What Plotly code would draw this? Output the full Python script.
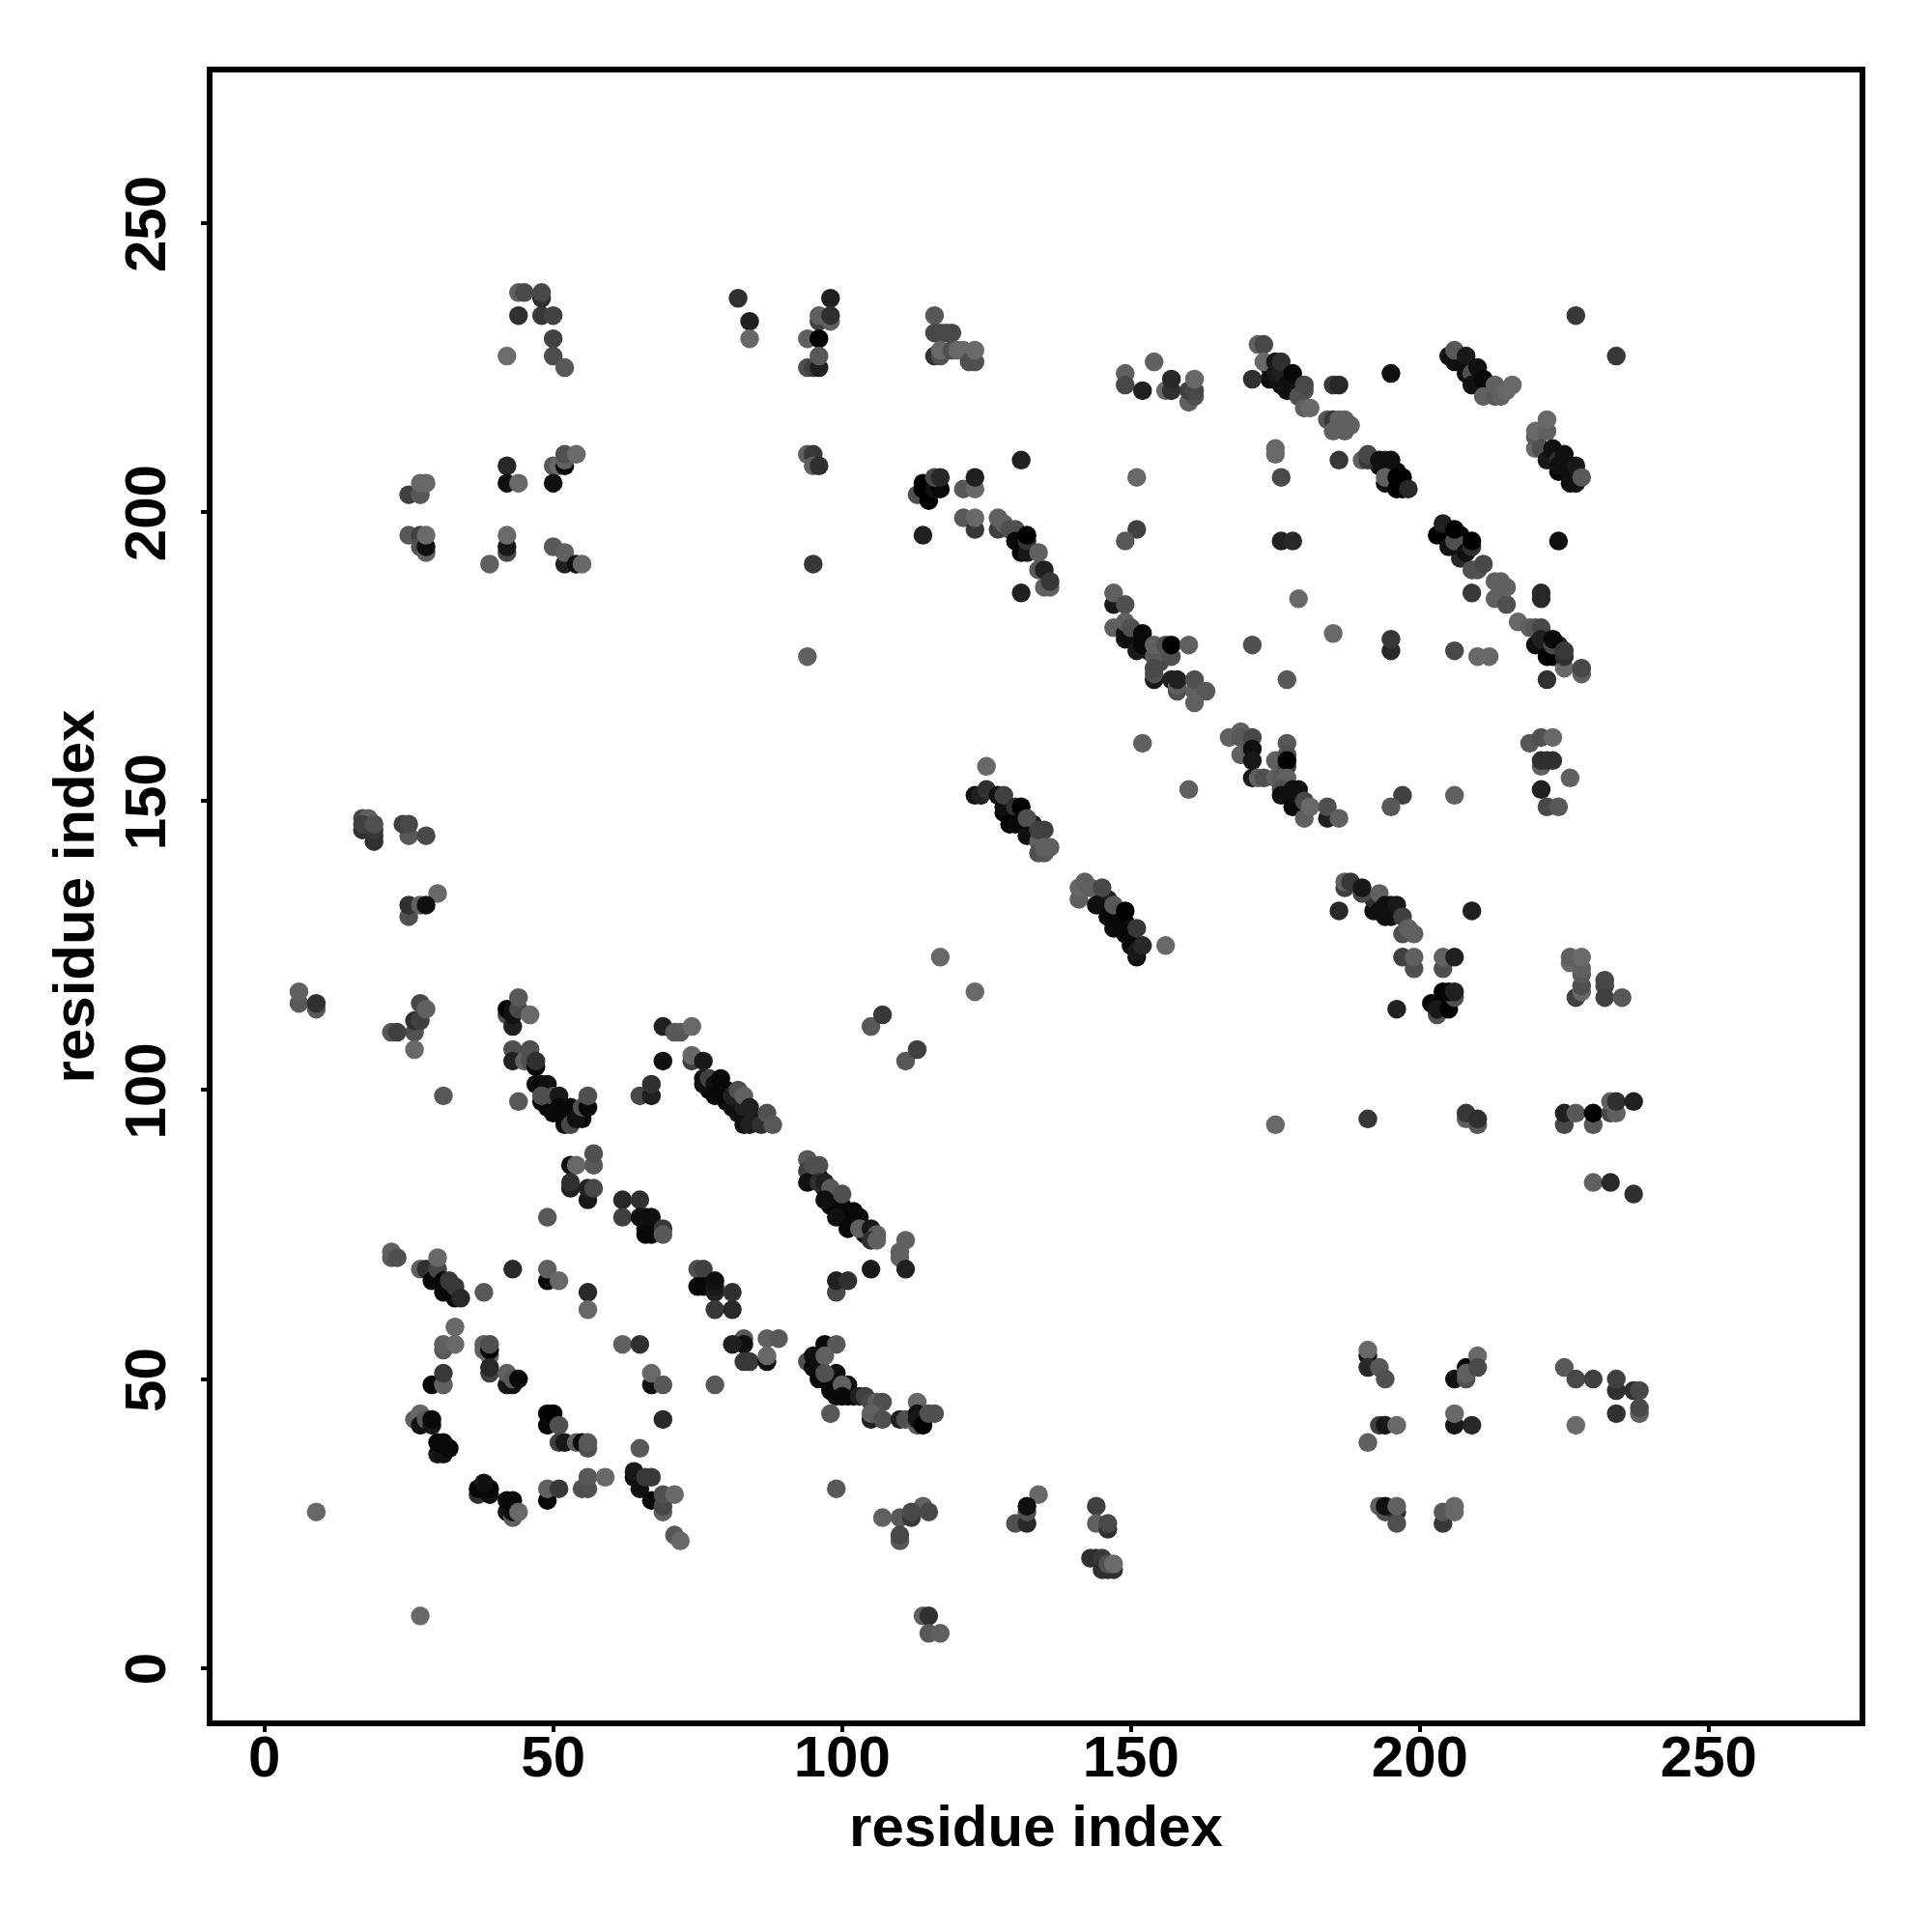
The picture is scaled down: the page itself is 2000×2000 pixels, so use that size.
import plotly.graph_objects as go

tick_values = [0, 50, 100, 150, 200, 250]
tick_labels = ["0", "50", "100", "150", "200", "250"]
axis_title = "residue index"

residue_i = [
95,96,97,98,98,99,100,100,101,102,103,104,98,
49,49,50,51,52,52,54,53,55,
77,78,79,80,80,82,82,84,85,
196,195,197,196,193,194,195,
205,204,205,206,207,207,208,208,207,
225,226,225,226,224,223,224,
174,174,176,177,178,176,179,179,
129,130,131,131,131,133,133,128,
145,146,147,148,149,149,150,146,150,147,
151,150,151,153,153,155,
192,194,195,194,192,
221,222,223,224,224,
99,98,99,100,102,101,
44,45,48,48,44,48,50,50,42,50,52,
42,42,44,50,51,52,52,52,54,50,
25,27,27,28,
25,27,27,28,28,28,
42,42,42,39,
50,52,52,54,55,
82,84,84,
98,96,96,98,98,94,96,94,95,96,96,
94,95,95,96,95,94,
116,116,117,118,119,116,117,117,119,120,121,122,123,123,
154,149,149,152,156,157,157,160,161,160,161,161,
151,131,
113,114,114,115,116,117,116,117,
121,123,123,121,123,123,114,
127,127,128,129,130,130,131,132,132,132,134,134,135,135,136,136,131,
151,149,
147,147,149,147,149,149,149,150,151,152,152,154,154,156,157,157,160,154,154,154,157,158,158,158,161,161,163,161,
152,167,
172,173,171,173,175,175,175,176,176,177,177,178,179,180,181,180,180,
185,186,195,
184,186,185,186,187,185,187,188,
175,175,176,186,
190,191,191,194,193,195,194,194,196,197,196,197,198,
176,178,224,
203,204,205,206,206,208,209,209,209,210,211,209,179,
214,213,214,215,213,214,215,
221,221,217,219,220,221,220,221,222,223,223,225,225,225,228,228,222,
185,195,195,171,177,206,210,212,
205,206,206,208,208,209,210,209,211,211,213,214,213,214,215,216,
220,220,220,222,222,221,222,223,224,224,225,226,227,227,228,
227,234,
169,169,171,177,219,221,223,
169,171,171,175,177,177,177,
171,172,173,175,176,177,176,176,178,179,178,179,180,180,181,184,184,186,
197,195,206,
221,221,222,223,226,221,222,224,
187,187,188,190,190,193,193,194,195,196,197,197,198,199,186,209,
197,199,199,204,204,206,196,
203,202,203,203,205,206,204,205,206,
226,226,227,228,228,228,228,228,232,232,232,235,
175,191,208,208,210,210,
225,225,227,230,230,233,234,233,234,237,
230,233,237,
17,17,19,19,19,18,17,19,
25,24,25,28,
30,25,25,27,28,
6,6,9,9,
26,26,22,23,26,27,27,28,
31,44,
42,43,42,43,43,44,44,46,
43,43,45,46,46,47,47,
47,48,48,49,48,50,50,51,51,52,53,53,54,55,56,56,
53,54,57,57,53,53,56,56,57,49,
62,65,62,65,66,67,66,66,67,69,69,
69,71,72,74,69,74,74,76,65,67,67,
76,76,77,78,78,79,81,81,82,83,83,83,84,84,86,87,88,
125,160,123,124,125,127,128,128,130,131,129,130,132,132,134,134,135,134,135,135,136,
141,141,142,143,145,144,146,147,149,148,150,151,151,151,152,156,
117,123,105,107,111,113,
94,94,94,95,96,96,97,98,100,97,99,102,101,103,105,106,105,106,111,110,110,111,105,99,99,101,
83,87,89,83,83,84,87,87,
94,95,95,96,97,99,97,96,99,97,98,101,100,100,103,104,105,106,107,98,105,105,107,
110,111,113,113,113,113,114,115,116,
99,107,110,110,110,114,112,112,115,
114,115,115,117,
134,130,132,132,132,
144,144,146,146,
143,144,145,145,146,147,146,147,
22,22,23,
27,28,29,30,30,31,31,32,33,33,34,
38,43,49,49,51,56,56,
31,31,33,33,
38,38,39,39,39,39,39,42,43,42,43,44,
29,31,31,
62,65,67,67,69,78,69,
75,76,75,76,78,78,78,81,78,81,81,
26,27,27,28,29,29,
30,31,30,31,32,
49,49,50,51,51,52,54,55,56,56,65,
37,37,39,39,38,38,
42,43,43,42,43,44,
49,49,51,55,56,56,59,
64,64,65,66,67,67,69,69,69,69,71,71,72,
9,27,
191,191,191,193,194,
206,208,208,208,210,210,
225,227,230,234,234,237,238,234,238,238,227,
193,194,196,191,206,206,209,
193,194,196,194,196,196,
204,204,206,206,
]

residue_j = [
85,85,83,82,80,81,80,79,78,77,78,75,81,
99,97,98,96,97,94,96,96,95,
100,100,99,100,98,98,96,95,95,
205,205,205,207,208,207,207,
196,196,195,194,194,196,195,194,192,
207,208,208,205,207,209,210,
225,223,222,223,221,225,222,221,
148,147,147,146,148,146,144,148,
133,131,130,130,129,127,128,133,125,128,
177,178,179,177,176,174,
131,130,132,131,133,
177,177,175,176,177,
49,50,47,48,47,47,
238,238,237,238,234,234,234,230,227,227,225,
208,205,205,208,208,208,209,210,210,205,
203,203,205,205,
196,196,194,193,194,196,
193,194,196,191,
194,191,193,191,191,
237,233,230,
237,233,234,233,234,230,230,225,225,225,227,
210,210,208,208,191,175,
234,231,231,231,231,227,227,228,228,228,228,226,226,228,
226,224,222,221,221,221,223,219,220,221,221,223,
206,209,
203,205,204,202,204,204,206,206,
204,204,206,199,197,199,196,
197,199,198,197,197,195,193,193,195,196,193,190,190,187,187,188,186,
197,195,
184,186,184,180,179,178,181,180,176,177,179,175,177,177,175,177,177,171,172,173,171,169,170,171,169,171,169,167,
160,161,
229,229,223,226,223,224,226,224,226,221,222,224,220,218,218,221,222,
222,222,224,
216,215,216,216,216,214,214,215,
210,211,206,209,
209,209,210,209,209,209,205,206,206,206,204,204,204,
195,195,195,
196,198,194,195,197,193,190,194,195,190,191,186,185,
186,185,185,184,188,188,187,
185,186,181,180,180,180,177,178,175,177,178,173,175,176,172,173,171,
179,176,178,177,171,176,175,175,
227,226,228,227,224,224,225,222,223,220,220,220,222,221,221,222,
211,213,214,214,216,211,209,211,209,208,210,206,205,208,206,
234,227,
162,161,161,160,160,161,161,
158,159,157,157,158,156,157,
154,154,154,154,154,154,152,151,152,152,149,151,150,147,149,147,149,147,
151,149,151,
156,157,157,157,154,152,149,149,
135,136,136,134,135,134,131,132,130,132,130,127,128,127,131,131,
123,121,123,121,123,123,114,
113,115,115,114,114,116,117,117,117,
122,123,116,117,118,120,121,123,119,118,116,116,
94,95,95,96,94,95,
94,96,96,94,96,96,96,98,98,98,
84,84,82,
147,145,143,144,145,147,146,146,
144,146,146,144,
134,130,132,132,132,
115,117,114,115,
110,107,110,110,112,112,115,114,
99,98,
113,111,114,113,114,114,116,113,
107,105,105,107,105,104,105,
101,101,98,101,99,99,96,99,97,95,94,97,95,97,97,99,
87,87,87,89,83,84,81,83,83,78,
81,81,78,78,78,78,76,75,75,76,75,
111,110,110,111,105,105,106,105,99,99,101,
102,101,102,101,99,102,97,99,100,97,94,99,97,94,94,96,94,
156,152,151,151,152,151,149,151,149,149,146,146,147,144,143,145,145,141,141,142,142,
133,135,136,135,135,132,130,132,131,128,126,128,123,124,125,125,
123,117,111,113,105,107,
88,86,84,87,87,84,84,83,82,81,78,79,76,76,76,75,74,74,74,71,72,69,69,65,67,67,
57,57,57,56,53,53,53,54,
53,54,52,53,56,56,54,50,51,51,48,49,49,47,47,47,46,46,46,44,43,44,43,
43,43,46,42,44,43,42,44,44,
31,26,26,22,23,28,26,27,27,
9,9,6,6,
30,25,25,27,28,
28,25,24,25,
19,19,19,17,17,17,18,18,
71,72,71,
69,69,67,69,71,65,67,67,64,66,64,
65,69,67,69,67,65,62,
55,56,59,56,
56,55,54,55,56,51,52,49,49,51,50,50,
49,49,51,
56,56,49,51,49,49,43,
69,69,66,66,65,66,67,65,62,62,56,
43,44,42,43,42,43,
37,37,39,39,38,
42,44,44,42,39,39,39,39,38,39,38,
30,31,30,31,31,32,
27,26,27,29,29,27,
29,31,31,31,31,33,33,
33,34,31,33,33,29,29,27,28,30,30,23,22,
27,9,
54,55,52,52,50,
50,50,52,51,54,52,
52,50,50,48,50,48,48,44,44,45,42,
42,42,42,39,42,44,42,
28,27,27,28,25,28,
25,27,27,28,
]

contact_shade = [
16,8,8,8,8,16,8,8,8,8,16,8,8,
8,8,8,8,8,16,8,8,8,
8,8,8,8,8,8,16,8,16,
0,0,0,8,8,8,8,
0,0,8,8,8,0,0,8,40,
8,8,16,16,8,16,16,
32,8,8,8,24,24,48,56,
8,8,8,16,16,24,32,8,
16,16,8,8,8,8,16,32,16,8,
16,16,8,16,8,72,
16,16,24,16,48,
8,8,8,16,32,
8,8,8,16,16,8,
96,74,48,72,48,56,66,66,108,76,88,
40,16,104,88,104,8,96,80,106,16,
64,88,104,104,
88,64,80,96,16,106,
72,24,106,96,
88,32,96,16,104,
48,32,104,
32,64,96,96,48,96,0,80,64,32,88,
96,56,96,48,56,96,
88,72,72,72,72,48,80,104,80,104,104,80,80,106,
96,96,72,32,104,48,40,96,80,64,72,104,
104,32,
80,8,0,0,16,8,72,40,
88,104,32,88,56,104,32,
64,96,96,80,80,8,8,24,48,0,96,88,32,96,96,56,32,
64,88,
24,96,80,96,16,16,96,80,24,8,8,88,96,80,80,0,96,24,80,72,32,80,96,32,96,80,88,96,
96,96,
96,72,48,104,16,24,24,32,48,16,16,8,80,96,104,80,72,
56,40,16,
88,0,56,96,96,96,96,96,
104,104,72,56,
96,56,72,48,16,16,16,96,0,0,0,0,40,
32,40,16,
0,32,16,80,0,16,80,48,0,80,72,56,104,
0,96,96,80,96,96,96,
40,40,104,96,88,72,16,32,0,72,8,104,48,56,96,72,48,
104,40,56,80,88,72,104,104,
16,16,88,24,16,80,16,16,8,96,88,96,96,96,104,104,
104,88,104,96,104,80,24,16,48,16,16,16,16,24,88,
56,56,
96,88,72,88,88,80,104,
96,16,24,96,80,64,0,
24,96,80,96,88,96,80,16,16,16,8,16,72,96,104,32,80,96,
64,88,96,
96,48,48,48,96,32,72,88,
64,96,56,72,24,96,16,16,16,24,64,80,96,96,40,32,
64,80,96,80,96,32,32,
80,0,8,24,0,80,0,8,32,
104,96,64,104,80,88,96,106,72,72,64,88,
104,56,96,56,88,48,
72,32,88,88,0,72,96,96,48,32,
96,40,48,
72,48,48,48,56,96,64,80,
88,64,72,72,
104,80,48,96,16,
88,96,88,48,
80,104,88,64,48,64,72,96,
88,88,
80,32,0,16,16,72,88,104,
80,32,96,80,80,8,48,
16,8,8,16,80,80,8,24,8,8,72,8,16,80,8,80,
16,104,88,80,32,48,24,32,72,88,
40,48,64,16,16,16,16,8,8,56,88,
32,88,88,104,16,64,104,24,72,32,48,
16,16,64,16,8,8,16,32,80,32,16,96,32,32,48,80,88,
104,96,16,32,48,16,16,64,48,0,0,8,80,16,96,64,64,80,88,96,96,
96,104,96,96,72,16,8,88,0,8,8,56,16,24,40,104,
104,104,88,56,88,64,
88,64,16,80,80,48,32,88,80,16,16,8,8,96,24,96,48,96,96,96,96,32,24,72,32,48,
88,96,88,16,56,56,16,104,
80,16,8,16,8,88,96,8,16,80,8,16,96,8,32,64,72,96,80,88,32,96,80,
32,80,104,96,16,24,0,80,80,
88,96,88,88,72,96,56,72,72,
96,48,88,96,
104,80,40,80,16,
64,96,48,72,
48,48,56,48,48,48,80,106,
88,96,80,
96,48,8,72,104,8,8,56,8,56,40,
88,40,8,96,104,40,104,
88,96,104,104,
96,96,104,0,80,64,40,24,16,96,88,8,
8,96,56,
96,48,16,104,88,88,40,
80,64,8,8,32,24,16,48,56,40,32,
96,104,16,88,24,8,
24,16,8,8,8,
8,8,0,80,64,24,96,8,80,88,88,
48,8,16,8,8,16,
24,96,16,8,8,104,
8,96,56,80,80,88,104,
8,24,16,56,56,8,8,96,72,80,104,88,104,
104,104,
16,104,40,88,80,
16,80,8,96,104,72,
88,72,64,48,64,48,72,48,96,72,106,
64,24,104,96,24,104,40,
96,80,48,16,80,96,
56,88,104,104,
]

assert len(residue_i) == len(residue_j) == len(contact_shade), (len(residue_i), len(residue_j), len(contact_shade))

FONT = "Liberation Sans"

fig = go.Figure(go.Scatter(
    x=residue_i,
    y=residue_j,
    mode="markers",
    marker=dict(
        size=19.5,
        color=contact_shade,
        cmin=0,
        cmax=255,
        colorscale=[[0, "#000000"], [1, "#ffffff"]],
        showscale=False,
        line=dict(width=0),
    ),
    hoverinfo="skip",
))

axis_common = dict(
    tickmode="array",
    tickvals=tick_values,
    ticktext=tick_labels,
    showgrid=False,
    zeroline=False,
    showline=True,
    mirror=True,
    linecolor="black",
    linewidth=6,
    ticks="outside",
    ticklen=6,
    tickwidth=4,
    tickcolor="black",
    tickfont=dict(family=FONT, size=60, color="black", weight="bold"),
    automargin=False,
)

fig.update_layout(
    width=1992,
    height=1992,
    autosize=False,
    margin=dict(l=211.7, r=74.7, t=67, b=219, pad=0),
    paper_bgcolor="white",
    plot_bgcolor="white",
    showlegend=False,
    xaxis=dict(
        **axis_common,
        range=[-8.96, 276.1],
        ticklabelstandoff=-26,
        title=dict(text=axis_title, font=dict(family=FONT, size=60, color="black", weight="bold"), standoff=20),
    ),
    yaxis=dict(
        **axis_common,
        range=[-9.08, 276.07],
        ticklabelstandoff=13,
        ticklabelshift=10,
        tickangle=-90,
        title=dict(text=axis_title, font=dict(family=FONT, size=60, color="black", weight="bold"), standoff=2),
    ),
)

fig.write_html("out.html")
